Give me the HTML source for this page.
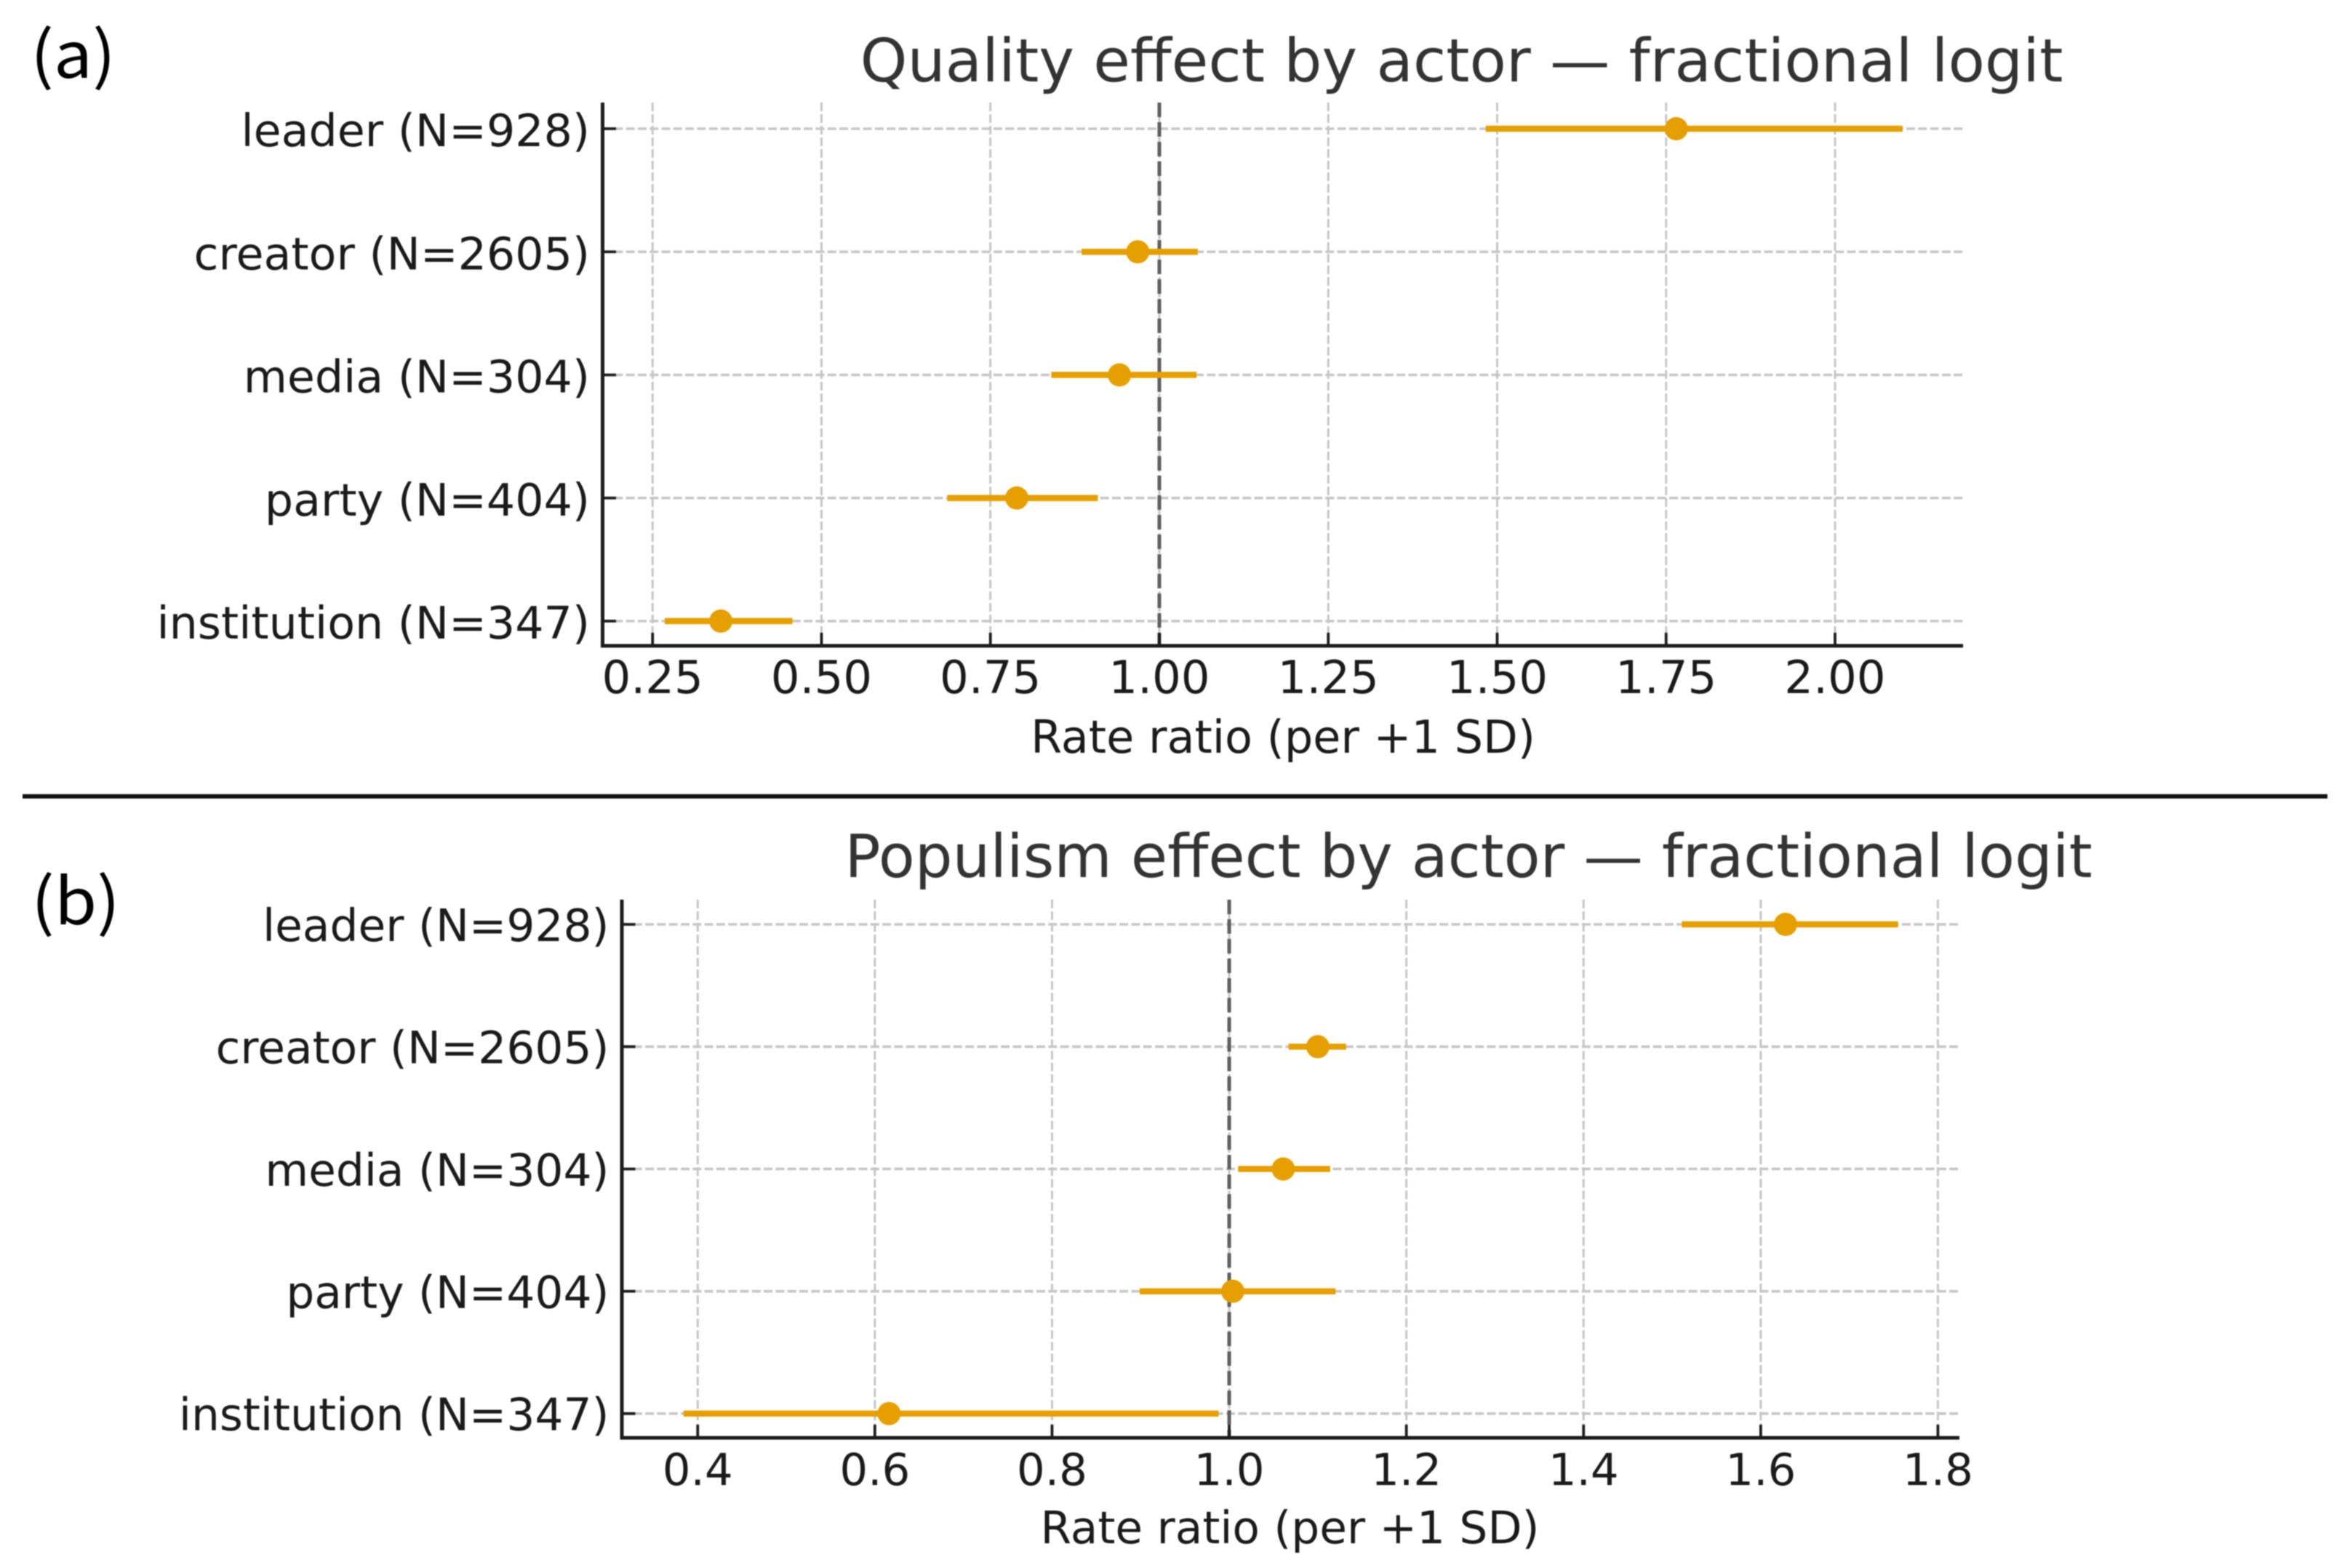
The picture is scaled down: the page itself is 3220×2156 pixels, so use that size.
<!DOCTYPE html>
<html lang="en">
<head>
<meta charset="utf-8">
<title>Quality and populism effects by actor</title>
<style>
html,body{margin:0;padding:0;background:#fff;}
svg{display:block;filter:blur(0.7px);}
text{font-family:"DejaVu Sans",sans-serif;}
</style>
</head>
<body>
<svg id="figure" xmlns="http://www.w3.org/2000/svg" width="3220" height="2156" viewBox="0 0 3220 2156">
  <rect x="0" y="0" width="3220" height="2156" fill="#ffffff"/>
  <text x="42" y="107" font-size="88" fill="#000" textLength="117" lengthAdjust="spacingAndGlyphs" style="font-family:'Noto Sans CJK JP','Liberation Sans',sans-serif">(a)</text>
  <text x="43" y="1271" font-size="88" fill="#000" textLength="122" lengthAdjust="spacingAndGlyphs" style="font-family:'Noto Sans CJK JP','Liberation Sans',sans-serif">(b)</text>
  <rect x="31" y="1092" width="3169" height="6" fill="#111"/>
  <text x="2009.5" y="112" font-size="82.4" fill="#333333" text-anchor="middle">Quality effect by actor — fractional logit</text>
  <text x="2019" y="1206" font-size="81.7" fill="#333333" text-anchor="middle">Populism effect by actor — fractional logit</text>
  <text x="1764" y="1035" font-size="62" fill="#1a1a1a" text-anchor="middle">Rate ratio (per +1 SD)</text>
  <text x="1773.5" y="2122" font-size="61.3" fill="#1a1a1a" text-anchor="middle">Rate ratio (per +1 SD)</text>
  <g id="panel-a"></g>
  <g id="panel-b"></g>
</svg>
<script>
// Chart data
var categories = ["leader (N=928)", "creator (N=2605)", "media (N=304)", "party (N=404)", "institution (N=347)"];

var qualityEstimates = [1.765, 0.968, 0.941, 0.789, 0.351];
var qualityLower = [1.483, 0.885, 0.84, 0.686, 0.268];
var qualityUpper = [2.10, 1.057, 1.055, 0.909, 0.457];
var qualityTicks = [0.25, 0.50, 0.75, 1.00, 1.25, 1.50, 1.75, 2.00];
var qualityTickLabels = ["0.25", "0.50", "0.75", "1.00", "1.25", "1.50", "1.75", "2.00"];

var populismEstimates = [1.628, 1.1, 1.061, 1.004, 0.616];
var populismLower = [1.511, 1.067, 1.01, 0.899, 0.384];
var populismUpper = [1.755, 1.132, 1.114, 1.12, 0.988];
var populismTicks = [0.4, 0.6, 0.8, 1.0, 1.2, 1.4, 1.6, 1.8];
var populismTickLabels = ["0.4", "0.6", "0.8", "1.0", "1.2", "1.4", "1.6", "1.8"];

var referenceValue = 1.0;

var SVG_NS = "http://www.w3.org/2000/svg";

function make(parent, tag, attrs, content) {
  var el = document.createElementNS(SVG_NS, tag);
  for (var key in attrs) {
    el.setAttribute(key, attrs[key]);
  }
  if (content !== undefined) {
    el.textContent = content;
  }
  parent.appendChild(el);
  return el;
}

function linearScale(d0, d1, r0, r1) {
  return function (v) {
    return r0 + (v - d0) * (r1 - r0) / (d1 - d0);
  };
}

function drawPanel(cfg) {
  var g = document.getElementById(cfg.id);
  var x = linearScale(cfg.domain[0], cfg.domain[1], cfg.left, cfg.right);
  var y = linearScale(0, categories.length - 1, cfg.firstRow, cfg.lastRow);
  var el;

  // vertical grid
  cfg.ticks.forEach(function (t) {
    var el = make(g, "line", {x1: x(t), x2: x(t), y1: cfg.top, y2: cfg.bottom, stroke: "#c6c6c6", "stroke-width": 3, "stroke-dasharray": "12 4"});
    
    
  });

  // horizontal grid
  categories.forEach(function (c, i) {
    var el = make(g, "line", {x1: cfg.left, x2: cfg.right, y1: y(i), y2: y(i), stroke: "#c6c6c6", "stroke-width": 3.6, "stroke-dasharray": "12 4.3"});
    
    
  });

  // reference line
  el = make(g, "line", {x1: x(referenceValue), x2: x(referenceValue), y1: cfg.top, y2: cfg.bottom, stroke: "#5e5e5e", "stroke-width": 5, "stroke-dasharray": "20 7"});
  
  

  // spines
  el = make(g, "line", {x1: cfg.left + 0.5, x2: cfg.left + 0.5, y1: cfg.top, y2: cfg.bottom + 2.5, stroke: "#1c1c1c", "stroke-width": 5});
  
  

  el = make(g, "line", {x1: cfg.left - 2, x2: cfg.right, y1: cfg.bottom, y2: cfg.bottom, stroke: "#1c1c1c", "stroke-width": 5});
  
  

  // x ticks + labels
  cfg.ticks.forEach(function (t, i) {
    var tick = make(g, "line", {x1: x(t), x2: x(t), y1: cfg.bottom, y2: cfg.bottom - 18, stroke: "#1c1c1c", "stroke-width": 3.8});
    
    
    var label = make(g, "text", {x: x(t), y: cfg.bottom + 65, "font-size": cfg.xTickFont, fill: "#1a1a1a", "text-anchor": "middle"}, cfg.tickLabels[i]);
    
    
  });

  // y ticks + labels
  categories.forEach(function (c, i) {
    var tick = make(g, "line", {x1: cfg.left, x2: cfg.left + 19, y1: y(i), y2: y(i), stroke: "#1c1c1c", "stroke-width": 3.8});
    
    
    var label = make(g, "text", {x: cfg.left - 17, y: y(i) + cfg.labelDrop, "font-size": cfg.yTickFont, fill: "#1a1a1a", "text-anchor": "end"}, c);
    
    
  });

  // confidence intervals and point estimates
  categories.forEach(function (c, i) {
    var ci = make(g, "line", {x1: x(cfg.lower[i]), x2: x(cfg.upper[i]), y1: y(i), y2: y(i), stroke: "#E69F00", "stroke-width": 8.4});
    
    
    var pt = make(g, "circle", {cx: x(cfg.estimates[i]), cy: y(i), r: 16, fill: "#E69F00"});
    
    
  });
}

drawPanel({
  id: "panel-a",
  domain: [0.1755, 2.1895], left: 828, right: 2699,
  top: 141, bottom: 888, firstRow: 177, lastRow: 854,
  xTickFont: 62.6, yTickFont: 61.8, labelDrop: 24,
  ticks: qualityTicks, tickLabels: qualityTickLabels,
  estimates: qualityEstimates, lower: qualityLower, upper: qualityUpper
});

drawPanel({
  id: "panel-b",
  domain: [0.314, 1.8243], left: 854.5, right: 2694,
  top: 1237, bottom: 1977, firstRow: 1271, lastRow: 1943.7,
  xTickFont: 61, yTickFont: 61.4, labelDrop: 23,
  ticks: populismTicks, tickLabels: populismTickLabels,
  estimates: populismEstimates, lower: populismLower, upper: populismUpper
});
</script>
</body>
</html>
